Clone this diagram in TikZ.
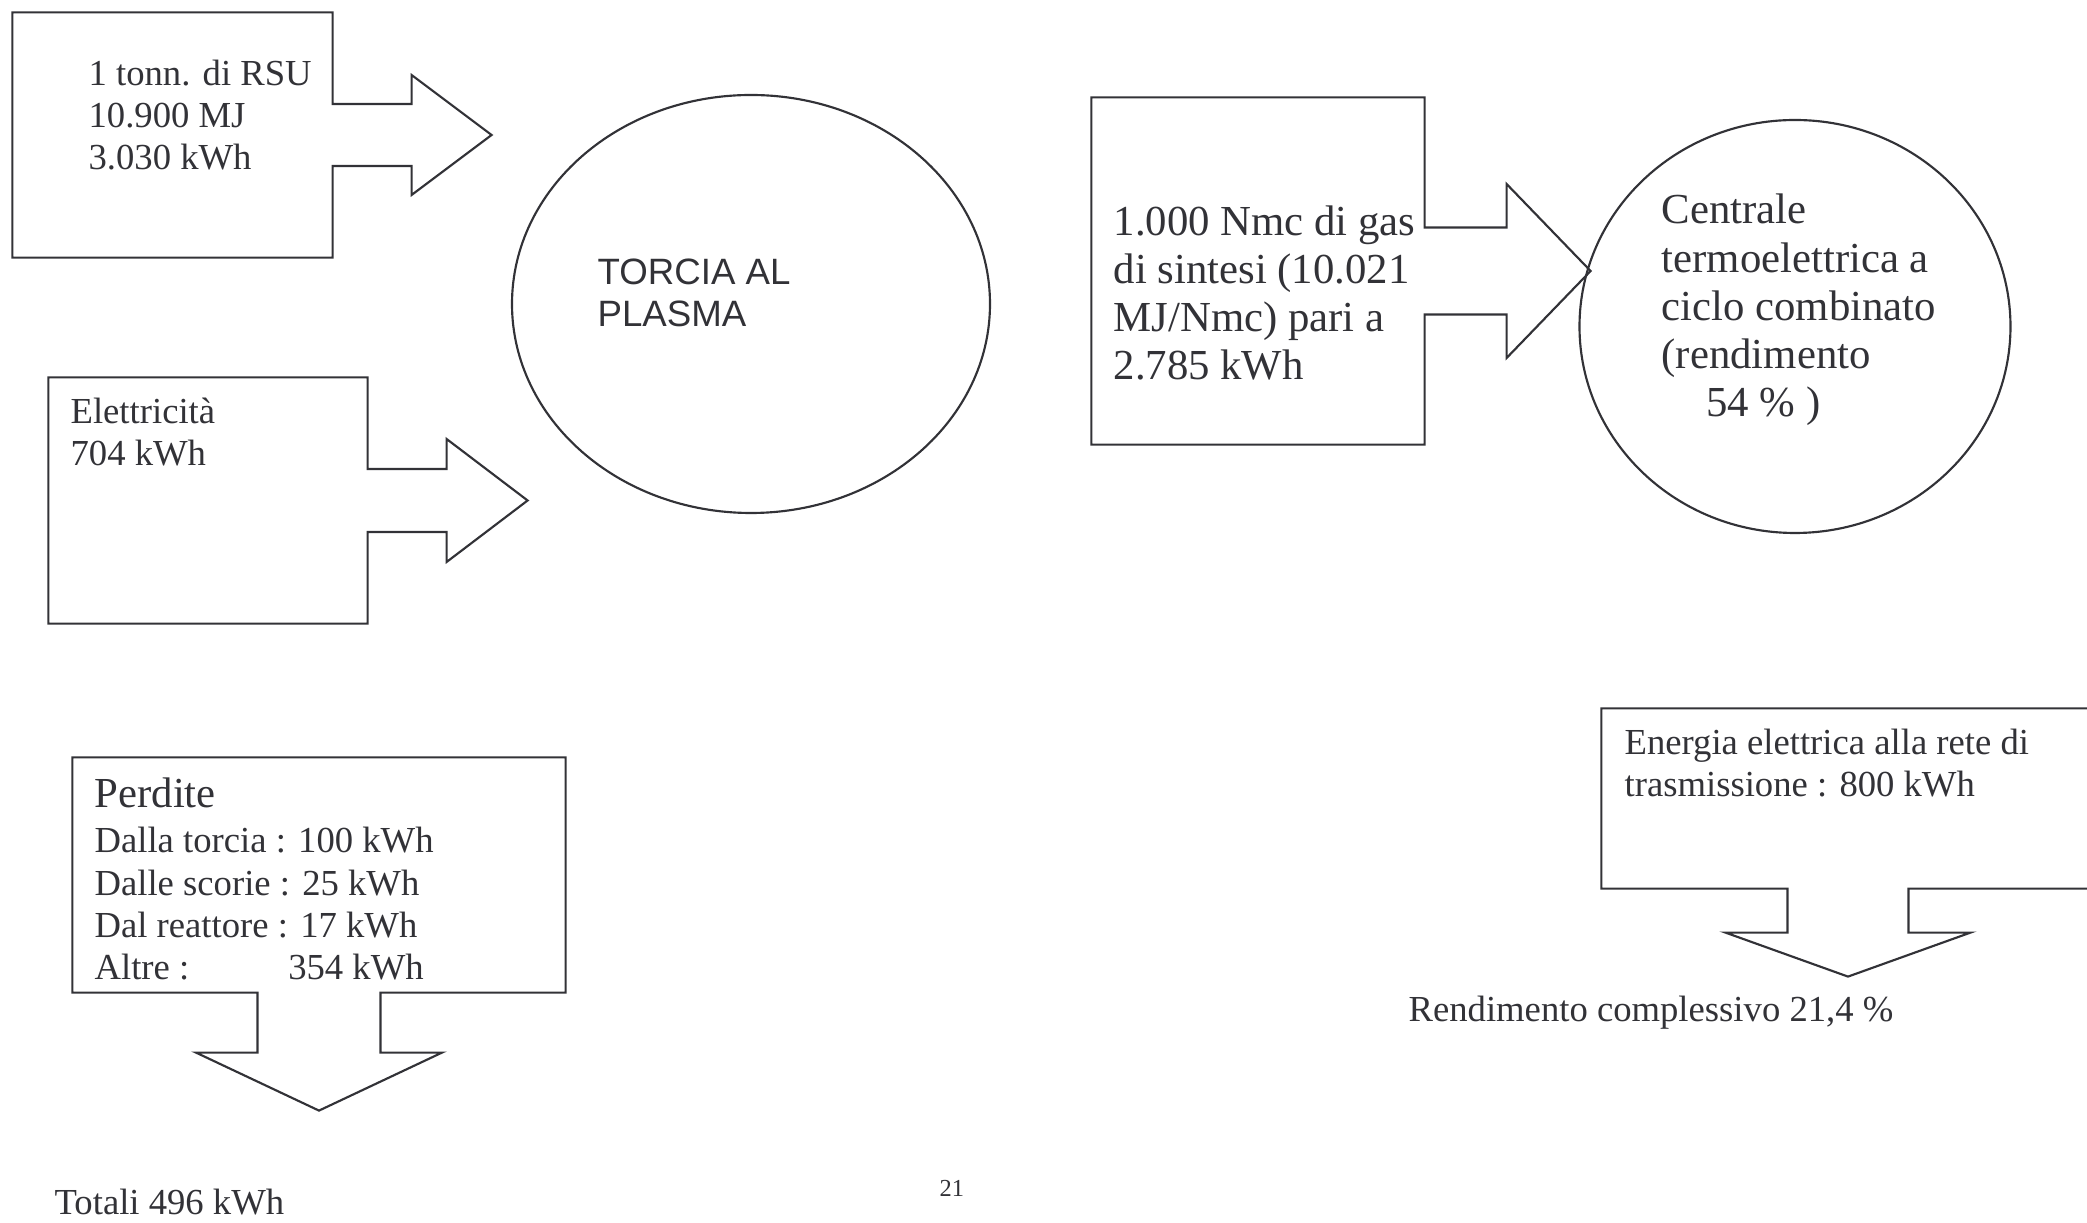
\documentclass[tikz,border=0pt]{standalone}
\usepackage{fontspec}
\setmainfont{Liberation Serif}
\newfontfamily\arialfont{Liberation Sans}
\usepackage{tikz}
\usetikzlibrary{calc}
\usetikzlibrary{shapes.geometric}
\definecolor{ink}{RGB}{50,50,55}
\newcommand{\pxu}{0.3273pt}

\begin{document}
\begin{tikzpicture}[x=\pxu, y=-\pxu, ink,
	frame/.style={rectangle, inner sep=0pt},
	outline/.style={draw=ink, line width=0.7pt, line join=miter},
	blob/.style={ellipse, draw=ink, line width=0.7pt, inner sep=0pt},
	txt/.style={anchor=base west, align=left, inner sep=0pt, text=ink, font=\fontsize{12}{13.9}\selectfont},
	bigtxt/.style={txt, font=\fontsize{14}{15.8}\selectfont}]

\useasboundingbox (0,0) rectangle (2087,1223);

% inputs to the torch (text nodes sit on the baseline of their last line)
\node at (172.5,135) [frame, minimum width=319*\pxu, minimum height=244*\pxu] (rsu) {};
\draw[outline] (rsu.south west) -- (rsu.north west) -- (rsu.north east) -- ($(rsu.east)+(0,-31)$) -- ++(79,0) -- ++(0,-29) -- ($(rsu.east)+(159,0)$) -- ($(rsu.east)+(79,60)$) -- ++(0,-29) -- ($(rsu.east)+(0,31)$) -- (rsu.south east) -- cycle;
\node at (88,170) [txt] (rsutext) {1 tonn. di RSU\\10.900 MJ\\3.030 kWh};

\node at (208,500.5) [frame, minimum width=318*\pxu, minimum height=245*\pxu] (elec) {};
\draw[outline] (elec.south west) -- (elec.north west) -- (elec.north east) -- ($(elec.east)+(0,-31.5)$) -- ++(79,0) -- ++(0,-30) -- ($(elec.east)+(160,0)$) -- ($(elec.east)+(79,61.5)$) -- ++(0,-30) -- ($(elec.east)+(0,31.5)$) -- (elec.south east) -- cycle;
\node at (70,466) [txt] (electext) {Elettricità\\704 kWh};

\node at (751,304) [blob, minimum width=478*\pxu, minimum height=418*\pxu] (torch) {};
\node at (597,327) [txt, font=\arialfont\fontsize{12}{13.8}\selectfont] (torchtext) {TORCIA AL\\PLASMA};

% syngas to the power plant
\node at (1258,271) [frame, minimum width=332*\pxu, minimum height=346*\pxu] (syngas) {};
\draw[outline] (syngas.south west) -- (syngas.north west) -- (syngas.north east) -- ($(syngas.east)+(0,-43.5)$) -- ++(82,0) -- ++(0,-43.5) -- ($(syngas.east)+(166,0)$) -- ($(syngas.east)+(82,87)$) -- ++(0,-43.5) -- ($(syngas.east)+(0,43.5)$) -- (syngas.south east) -- cycle;
\node at (1113,380) [bigtxt] (syngastext) {1.000 Nmc di gas\\di sintesi (10.021\\MJ/Nmc) pari a\\2.785 kWh};

\node at (1795,326.5) [blob, minimum width=431*\pxu, minimum height=413*\pxu] (plant) {};
\node at (1661,417) [bigtxt] (planttext) {Centrale\\termoelettrica a\\ciclo combinato\\(rendimento\\\hspace*{1.05em}54 \% )};

% losses
\node at (319,875) [frame, minimum width=492*\pxu, minimum height=234*\pxu] (losses) {};
\draw[outline] (losses.north east) -- (losses.north west) -- (losses.south west) -- ($(losses.south)+(-61.5,0)$) -- ++(0,60) -- ++(-61.5,0) -- ($(losses.south)+(0,118)$) -- ($(losses.south)+(123,60)$) -- ++(-61.5,0) -- ++(0,-60) -- (losses.south east) -- cycle;
\node at (94,808) [bigtxt] (losstitle) {Perdite};
\node at (94,980) [txt] (losstext) {Dalla torcia : 100 kWh\\Dalle scorie : 25 kWh\\Dal reattore : 17 kWh\\Altre :\hspace{2.7em}354 kWh};
\node at (54,1215) [txt] (losstotal) {Totali 496 kWh};

% output to the grid
\node at (1848,798.5) [frame, minimum width=492*\pxu, minimum height=179*\pxu] (grid) {};
\draw[outline] (grid.north east) -- (grid.north west) -- (grid.south west) -- ($(grid.south)+(-60.5,0)$) -- ++(0,44) -- ++(-62,0) -- ($(grid.south)+(0,88)$) -- ($(grid.south)+(122.5,44)$) -- ++(-62,0) -- ++(0,-44) -- (grid.south east) -- cycle;
\node at (1624,797) [txt] (gridtext) {Energia elettrica alla rete di\\trasmissione : 800 kWh};
\node at (1408,1022) [txt] (overall) {Rendimento complessivo 21,4 \%};

\node at (939,1197) [txt, font=\fontsize{8}{9.6}\selectfont] (pagenum) {21};

\end{tikzpicture}
\end{document}
